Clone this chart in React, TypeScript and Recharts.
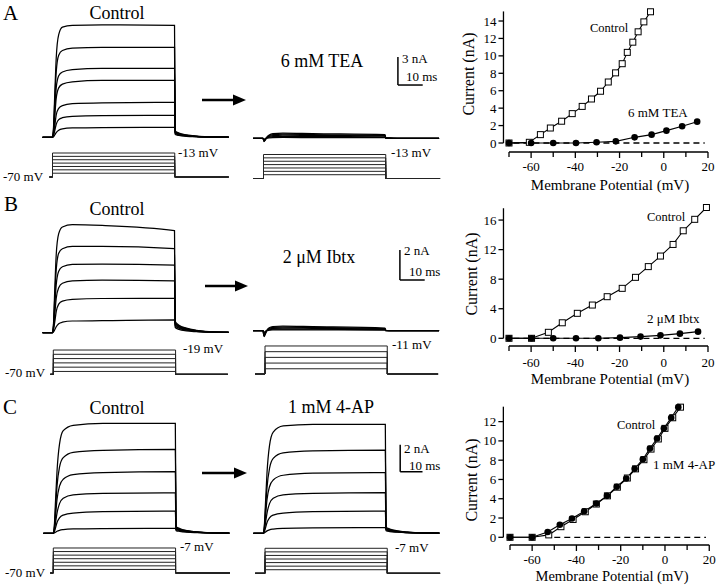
import React from 'react';
import { LineChart, Line, XAxis, YAxis, ReferenceLine } from 'recharts';

const FONT = '"Liberation Serif", "Times New Roman", "DejaVu Serif", serif';

// ---- current traces: samples (ms from step onset) and values (nA)
const traceTimes = [-4, 0, 0.4, 0.9, 1.5, 2.5, 4, 8, 20, 49.2, 49.5, 51, 54, 58, 64, 71];

const tracesAControl = [
  [0, 0, 1.0, 4.5, 8.5, 11.0, 11.8, 12.0, 12.05, 12.0, 0.7, 0.45, 0.25, 0.12, 0.05, 0.02],
  [0, 0, 0.8, 3.8, 7.0, 8.8, 9.3, 9.55, 9.65, 9.65, 0.6, 0.4, 0.22, 0.1, 0.04, 0.02],
  [0, 0, 0.6, 2.8, 5.3, 6.6, 7.0, 7.25, 7.4, 7.4, 0.55, 0.35, 0.2, 0.1, 0.04, 0.02],
  [0, 0, 0.5, 2.2, 4.2, 5.3, 5.7, 5.95, 6.1, 6.1, 0.5, 0.32, 0.18, 0.09, 0.04, 0.02],
  [0, 0, 0.3, 1.2, 2.4, 3.1, 3.4, 3.6, 3.7, 3.75, 0.45, 0.3, 0.16, 0.08, 0.03, 0.02],
  [0, 0, 0.2, 0.7, 1.4, 1.9, 2.1, 2.25, 2.33, 2.36, 0.4, 0.26, 0.14, 0.07, 0.03, 0.02],
  [0, 0, 0.05, 0.25, 0.5, 0.75, 0.9, 1.0, 1.05, 1.07, 0.3, 0.2, 0.11, 0.06, 0.03, 0.02],
];
const tracesATea = [
  [0, 0, -0.35, -0.2, 0.1, 0.35, 0.5, 0.55, 0.5, 0.4, 0.05, 0.02, 0, 0, 0, 0],
  [0, 0, -0.3, -0.15, 0.08, 0.28, 0.4, 0.44, 0.4, 0.32, 0.04, 0.02, 0, 0, 0, 0],
  [0, 0, -0.25, -0.1, 0.05, 0.2, 0.3, 0.33, 0.3, 0.25, 0.03, 0.01, 0, 0, 0, 0],
  [0, 0, -0.2, -0.08, 0.03, 0.12, 0.18, 0.2, 0.18, 0.15, 0.02, 0.01, 0, 0, 0, 0],
  [0, 0, -0.1, -0.04, 0.01, 0.05, 0.08, 0.09, 0.08, 0.07, 0.01, 0, 0, 0, 0, 0],
];
const tracesBControl = [
  [0, 0, 0.6, 2.8, 5.2, 6.6, 7.05, 7.2, 7.15, 6.8, 0.75, 0.5, 0.3, 0.16, 0.07, 0.03],
  [0, 0, 0.5, 2.3, 4.2, 5.3, 5.6, 5.75, 5.75, 5.6, 0.65, 0.45, 0.27, 0.14, 0.06, 0.03],
  [0, 0, 0.4, 1.7, 3.2, 4.1, 4.4, 4.55, 4.58, 4.5, 0.6, 0.4, 0.24, 0.12, 0.05, 0.02],
  [0, 0, 0.3, 1.2, 2.3, 3.0, 3.3, 3.45, 3.5, 3.45, 0.5, 0.35, 0.2, 0.1, 0.05, 0.02],
  [0, 0, 0.2, 0.7, 1.4, 1.9, 2.1, 2.22, 2.28, 2.29, 0.45, 0.3, 0.17, 0.09, 0.04, 0.02],
  [0, 0, 0.05, 0.2, 0.4, 0.6, 0.7, 0.78, 0.8, 0.85, 0.35, 0.22, 0.12, 0.07, 0.03, 0.02],
];
const tracesBIbtx = [
  [0, 0, -0.4, -0.25, 0.0, 0.2, 0.28, 0.3, 0.27, 0.18, 0.03, 0.01, 0, 0, 0, 0],
  [0, 0, -0.35, -0.2, 0.0, 0.15, 0.22, 0.24, 0.22, 0.14, 0.02, 0.01, 0, 0, 0, 0],
  [0, 0, -0.3, -0.15, 0, 0.1, 0.16, 0.18, 0.16, 0.1, 0.02, 0, 0, 0, 0, 0],
  [0, 0, -0.2, -0.1, 0, 0.06, 0.1, 0.11, 0.1, 0.07, 0.01, 0, 0, 0, 0, 0],
  [0, 0, -0.1, -0.05, 0, 0.03, 0.05, 0.05, 0.05, 0.03, 0, 0, 0, 0, 0, 0],
];
const tracesCControl = [
  [0, 0, 0.5, 2.4, 4.6, 6.6, 7.6, 8.0, 8.15, 8.15, 0.5, 0.35, 0.2, 0.1, 0.04, 0.02],
  [0, 0, 0.4, 1.8, 3.5, 4.9, 5.6, 6.0, 6.15, 6.22, 0.45, 0.3, 0.18, 0.09, 0.04, 0.02],
  [0, 0, 0.3, 1.3, 2.5, 3.5, 4.0, 4.35, 4.5, 4.57, 0.4, 0.27, 0.16, 0.08, 0.03, 0.02],
  [0, 0, 0.2, 0.8, 1.5, 2.2, 2.6, 2.85, 2.95, 3.0, 0.35, 0.23, 0.13, 0.07, 0.03, 0.02],
  [0, 0, 0.1, 0.4, 0.8, 1.15, 1.35, 1.5, 1.6, 1.65, 0.3, 0.2, 0.11, 0.06, 0.03, 0.02],
  [0, 0, 0.02, 0.08, 0.15, 0.22, 0.27, 0.32, 0.35, 0.37, 0.2, 0.14, 0.08, 0.05, 0.02, 0.01],
];
const tracesC4AP = [
  [0, 0, 0.5, 2.3, 4.5, 6.5, 7.5, 7.95, 8.07, 8.07, 0.45, 0.32, 0.18, 0.09, 0.04, 0.02],
  [0, 0, 0.4, 1.8, 3.4, 4.8, 5.55, 5.95, 6.1, 6.17, 0.4, 0.28, 0.16, 0.08, 0.03, 0.02],
  [0, 0, 0.3, 1.3, 2.5, 3.45, 3.95, 4.3, 4.45, 4.5, 0.36, 0.25, 0.14, 0.07, 0.03, 0.02],
  [0, 0, 0.2, 0.8, 1.5, 2.2, 2.6, 2.85, 2.95, 3.01, 0.32, 0.21, 0.12, 0.06, 0.03, 0.02],
  [0, 0, 0.1, 0.4, 0.8, 1.15, 1.35, 1.5, 1.6, 1.65, 0.28, 0.18, 0.1, 0.05, 0.02, 0.01],
  [0, 0, 0.02, 0.1, 0.18, 0.26, 0.31, 0.36, 0.4, 0.42, 0.2, 0.13, 0.08, 0.04, 0.02, 0.01],
];

// ---- voltage protocols (mV)
const HOLD_MV = -70;
const STEP_MS = 49.3;
const stepsA = [-61, -53, -45, -37, -29, -21, -13];
const stepsBControl = [-64, -55, -46, -37, -28, -19];
const stepsBIbtx = [-59, -47, -35, -23, -11];
const stepsC = [-61, -52, -43, -34, -25, -16, -7];

// ---- I-V data: membrane potential (mV) and peak current (nA)
const ivAControlMv = [-70, -60.8, -55.8, -51.3, -46.2, -41.4, -36.9, -32.7, -28.6, -25.1, -21.8, -18.8, -16.5, -14.0, -11.6, -9.0, -6.0];
const ivAControlNa = [0, 0.08, 0.96, 1.72, 2.5, 3.37, 4.2, 5.05, 5.94, 7.0, 8.05, 9.1, 10.4, 11.57, 12.76, 13.9, 15.06];
const ivATeaMv = [-70, -60, -50, -39.7, -30.4, -21.7, -13.2, -5.5, 1.2, 8.3, 15.1];
const ivATeaNa = [0, 0, 0, 0, 0.08, 0.19, 0.65, 0.96, 1.42, 1.92, 2.45];

const ivBControlMv = [-70, -59.8, -52.2, -45.9, -39.1, -32.3, -25.6, -18.8, -12.8, -7.0, -1.5, 4.2, 8.8, 14.0, 19.3];
const ivBControlNa = [0, 0, 0.81, 2.1, 3.38, 4.5, 5.63, 6.76, 8.25, 9.7, 11.13, 12.7, 14.55, 16.1, 17.7];
const ivBIbtxMv = [-70, -59.8, -50, -39.7, -29.6, -19.8, -10.5, -1.5, 7.3, 15.5];
const ivBIbtxNa = [0, 0, 0, 0, 0, 0.09, 0.23, 0.4, 0.63, 0.9];

const ivCControlMv = [-70, -60, -52.5, -47, -41.5, -36, -31, -26, -21.5, -17, -13.3, -9.5, -6.3, -3, 0, 3.5, 7];
const ivCControlNa = [0, 0, 0.25, 1.1, 1.85, 2.65, 3.45, 4.3, 5.2, 6.15, 7.1, 8.05, 9.15, 10.2, 11.3, 12.4, 13.5];
const ivC4APMv = [-70, -60, -53, -47.5, -42, -36.5, -31, -26.2, -21.8, -17.5, -13.7, -10, -6.8, -3.6, -0.5, 2.8, 6];
const ivC4APNa = [0, 0, 0.55, 1.3, 1.95, 2.7, 3.5, 4.3, 5.25, 6.1, 7.1, 8.1, 9.2, 10.25, 11.3, 12.4, 13.5];

const xTicks = [-70, -60, -50, -40, -30, -20, -10, 0, 10, 20];
const xLabelled = [-60, -40, -20, 0, 20];
const yTicksA = [0, 2, 4, 6, 8, 10, 12, 14];
const yTicksB = [0, 4, 8, 12, 16];
const yTicksC = [0, 2, 4, 6, 8, 10, 12];

type Box = { left: number; top: number; width: number; height: number };
type Map1 = { x0: number; xs: number; y0: number; v0: number; ys: number };

function domains(b: Box, m: Map1) {
  return {
    x: [(b.left - m.x0) / m.xs, (b.left + b.width - m.x0) / m.xs] as [number, number],
    y: [m.v0 + (m.y0 - b.top - b.height) / m.ys, m.v0 + (m.y0 - b.top) / m.ys] as [number, number],
  };
}

const zero = { top: 0, right: 0, bottom: 0, left: 0 };

function TracePanel({ box, map, traces, bar }: { box: Box; map: Map1; traces: number[][]; bar?: { t: number; i: number; dt: number; di: number } }) {
  const d = domains(box, map);
  const rows = traceTimes.map((t, i) => {
    const r: Record<string, number> = { t };
    traces.forEach((tr, k) => (r['s' + k] = tr[i]));
    return r;
  });
  return (
    <div style={{ position: 'absolute', left: box.left, top: box.top }}>
      <LineChart width={box.width} height={box.height} data={rows} margin={zero}>
        <XAxis dataKey="t" type="number" domain={d.x} allowDataOverflow hide />
        <YAxis type="number" domain={d.y} allowDataOverflow hide />
        {traces.map((_, k) => (
          <Line key={k} dataKey={'s' + k} type="monotone" stroke="#000" strokeWidth={1.25} dot={false} activeDot={false} isAnimationActive={false} />
        ))}
        {bar && (
          <ReferenceLine segment={[{ x: bar.t, y: bar.i }, { x: bar.t, y: bar.i + bar.di }]} stroke="#000" strokeWidth={1.5} ifOverflow="visible" />
        )}
        {bar && (
          <ReferenceLine segment={[{ x: bar.t, y: bar.i }, { x: bar.t + bar.dt, y: bar.i }]} stroke="#000" strokeWidth={1.5} ifOverflow="visible" />
        )}
      </LineChart>
    </div>
  );
}

function StepPanel({ box, map, levels, tStart, tEnd }: { box: Box; map: Map1; levels: number[]; tStart: number; tEnd: number }) {
  const d = domains(box, map);
  return (
    <div style={{ position: 'absolute', left: box.left, top: box.top }}>
      <LineChart width={box.width} height={box.height} margin={zero}>
        <XAxis dataKey="t" type="number" domain={d.x} allowDataOverflow hide />
        <YAxis dataKey="v" type="number" domain={d.y} allowDataOverflow hide />
        {levels.map((lv, k) => (
          <Line
            key={k}
            data={[
              { t: tStart, v: HOLD_MV },
              { t: 0, v: HOLD_MV },
              { t: 0, v: lv },
              { t: STEP_MS, v: lv },
              { t: STEP_MS, v: HOLD_MV },
              { t: tEnd, v: HOLD_MV },
            ]}
            dataKey="v"
            type="linear"
            stroke="#222"
            strokeWidth={1}
            dot={false}
            activeDot={false}
            isAnimationActive={false}
          />
        ))}
      </LineChart>
    </div>
  );
}

const SquareDot = (p: any) => (
  <rect key={'q' + p.index} x={p.cx - 3} y={p.cy - 3} width={6} height={6} fill="#fff" stroke="#000" strokeWidth={1} />
);
const CircleDot = (p: any) => <circle key={'c' + p.index} cx={p.cx} cy={p.cy} r={3.3} fill="#000" />;

const makeXTick = (dy: number) => (p: any) => {
  const v = p.payload.value;
  const lab = xLabelled.includes(v);
  return (
    <g>
      <line x1={p.x} x2={p.x} y1={p.y} y2={p.y + (lab ? 6 : 5)} stroke="#000" strokeWidth={1.3} />
      {lab && (
        <text x={p.x} y={p.y + dy} textAnchor="middle" fontSize={13} fontFamily={FONT} fill="#000">
          {v}
        </text>
      )}
    </g>
  );
};
const YTick = (p: any) => (
  <g>
    <line x1={p.x} x2={p.x - 5} y1={p.y} y2={p.y} stroke="#000" strokeWidth={1.3} />
    <text x={p.x - 7} y={p.y + 4.5} textAnchor="end" fontSize={13} fontFamily={FONT} fill="#000">
      {p.payload.value}
    </text>
  </g>
);

type IVGeo = Box & { xv: number; xp: number; xs: number; yp0: number; ys: number; xMin: number; xMax: number; yMin: number; yMax: number };

const AX_W = 30; // room reserved by the (drawn) axes inside the chart margin
const AX_H = 30;

function IVPlot({ g, ctrlMv, ctrlNa, drugMv, drugNa, yTicks, axisTop, dashFrom, labelDy }: {
  g: IVGeo; ctrlMv: number[]; ctrlNa: number[]; drugMv: number[]; drugNa: number[]; yTicks: number[]; axisTop: number; dashFrom: number; labelDy: number;
}) {
  const px = (v: number) => g.xp + (v - g.xv) * g.xs;
  const py = (v: number) => g.yp0 - v * g.ys;
  const margin = {
    left: px(g.xMin) - g.left - AX_W,
    right: g.left + g.width - px(g.xMax),
    top: py(g.yMax) - g.top,
    bottom: g.top + g.height - py(g.yMin) - AX_H,
  };
  const ctrl = ctrlMv.map((v, i) => ({ v, i: ctrlNa[i] }));
  const drug = drugMv.map((v, i) => ({ v, i: drugNa[i] }));
  return (
    <div style={{ position: 'absolute', left: g.left, top: g.top }}>
      <LineChart width={g.width} height={g.height} margin={margin}>
        <XAxis dataKey="v" type="number" domain={[g.xMin, g.xMax]} allowDataOverflow ticks={xTicks} interval={0}
          axisLine={false} tickLine={false} tickSize={0} tickMargin={0} height={AX_H} tick={makeXTick(labelDy)} />
        <YAxis type="number" domain={[g.yMin, g.yMax]} allowDataOverflow ticks={yTicks} interval={0}
          axisLine={false} tickLine={false} tickSize={0} tickMargin={0} width={AX_W} tick={YTick} />
        <ReferenceLine segment={[{ x: g.xMin, y: 0 }, { x: g.xMin, y: axisTop }]} stroke="#000" strokeWidth={1.3} ifOverflow="visible" />
        <ReferenceLine segment={[{ x: -70, y: g.yMin }, { x: 20, y: g.yMin }]} stroke="#000" strokeWidth={1.3} ifOverflow="visible" />
        <ReferenceLine segment={[{ x: dashFrom, y: 0 }, { x: 18.5, y: 0 }]} stroke="#000" strokeWidth={1.3} strokeDasharray="6 4" ifOverflow="visible" />
        <Line data={ctrl} dataKey="i" type="linear" stroke="#000" strokeWidth={1.1} dot={SquareDot} activeDot={false} isAnimationActive={false} />
        <Line data={drug} dataKey="i" type="linear" stroke="#000" strokeWidth={1.1} dot={CircleDot} activeDot={false} isAnimationActive={false} />
      </LineChart>
    </div>
  );
}

const T = (props: any) => <text fontFamily={FONT} fill="#000" {...props} />;

function Arrow({ x1, x2, y }: { x1: number; x2: number; y: number }) {
  return (
    <g>
      <line x1={x1} x2={x2 - 11} y1={y} y2={y} stroke="#000" strokeWidth={2.5} />
      <polygon points={`${x2 - 13},${y - 5.5} ${x2},${y} ${x2 - 13},${y + 5.5}`} fill="#000" />
    </g>
  );
}

export default function App() {
  const ivA: IVGeo = { left: 455, top: 0, width: 265, height: 195, xv: -70, xp: 509, xs: 2.211, yp0: 143, ys: 8.714, xMin: -72.5, xMax: 22.5, yMin: -1.03, yMax: 16 };
  const ivB: IVGeo = { left: 455, top: 195, width: 265, height: 195, xv: -70, xp: 509, xs: 2.211, yp0: 338.3, ys: 7.39, xMin: -72.5, xMax: 22.5, yMin: -1.04, yMax: 18.6 };
  const ivC: IVGeo = { left: 455, top: 390, width: 265, height: 198, xv: -70, xp: 510, xs: 2.214, yp0: 537.3, ys: 9.64, xMin: -73, xMax: 22.5, yMin: -0.8, yMax: 14.3 };

  return (
    <div style={{ position: 'absolute', left: 0, top: 0, width: 720, height: 588, background: '#fff', overflow: 'hidden' }}>
      {/* A */}
      <TracePanel box={{ left: 40, top: 15, width: 192, height: 128 }} map={{ x0: 52.5, xs: 2.48, y0: 137.3, v0: 0, ys: 9.33 }} traces={tracesAControl} />
      <TracePanel box={{ left: 250, top: 50, width: 190, height: 96 }} map={{ x0: 263, xs: 2.48, y0: 138.3, v0: 0, ys: 9.33 }} traces={tracesATea}
        bar={{ t: 54.4, i: 5.71, dt: 10, di: 3 }} />
      <StepPanel box={{ left: 46, top: 148, width: 188, height: 34 }} map={{ x0: 52.5, xs: 2.48, y0: 177, v0: HOLD_MV, ys: 0.421 }} levels={stepsA} tStart={-1.2} tEnd={71} />
      <StepPanel box={{ left: 250, top: 148, width: 192, height: 34 }} map={{ x0: 263.5, xs: 2.48, y0: 178.5, v0: HOLD_MV, ys: 0.421 }} levels={stepsA} tStart={-4.2} tEnd={71.2} />
      <IVPlot g={ivA} ctrlMv={ivAControlMv} ctrlNa={ivAControlNa} drugMv={ivATeaMv} drugNa={ivATeaNa} yTicks={yTicksA} axisTop={15.1} dashFrom={-68} labelDy={19.5} />

      {/* B */}
      <TracePanel box={{ left: 40, top: 218, width: 192, height: 122 }} map={{ x0: 52.5, xs: 2.48, y0: 332.7, v0: 0, ys: 15 }} traces={tracesBControl} />
      <TracePanel box={{ left: 250, top: 240, width: 190, height: 100 }} map={{ x0: 263, xs: 2.48, y0: 330.7, v0: 0, ys: 15 }} traces={tracesBIbtx}
        bar={{ t: 55.2, i: 3.38, dt: 10, di: 2 }} />
      <StepPanel box={{ left: 46, top: 343, width: 190, height: 36 }} map={{ x0: 53.3, xs: 2.48, y0: 374.3, v0: HOLD_MV, ys: 0.476 }} levels={stepsBControl} tStart={-1.2} tEnd={70.4} />
      <StepPanel box={{ left: 250, top: 340, width: 192, height: 40 }} map={{ x0: 265, xs: 2.48, y0: 374, v0: HOLD_MV, ys: 0.475 }} levels={stepsBIbtx} tStart={-4} tEnd={69.8} />
      <IVPlot g={ivB} ctrlMv={ivBControlMv} ctrlNa={ivBControlNa} drugMv={ivBIbtxMv} drugNa={ivBIbtxNa} yTicks={yTicksB} axisTop={17.6} dashFrom={-68} labelDy={21} />

      {/* C */}
      <TracePanel box={{ left: 40, top: 416, width: 192, height: 124 }} map={{ x0: 53.3, xs: 2.48, y0: 533.3, v0: 0, ys: 13.5 }} traces={tracesCControl} />
      <TracePanel box={{ left: 250, top: 416, width: 190, height: 124 }} map={{ x0: 263.3, xs: 2.48, y0: 533.3, v0: 0, ys: 13.5 }} traces={tracesC4AP}
        bar={{ t: 55.2, i: 4.56, dt: 9, di: 2 }} />
      <StepPanel box={{ left: 46, top: 542, width: 190, height: 36 }} map={{ x0: 53.3, xs: 2.48, y0: 573, v0: HOLD_MV, ys: 0.397 }} levels={stepsC} tStart={-1.2} tEnd={71.2} />
      <StepPanel box={{ left: 250, top: 542, width: 192, height: 36 }} map={{ x0: 265, xs: 2.48, y0: 573.3, v0: HOLD_MV, ys: 0.397 }} levels={stepsC} tStart={-4} tEnd={70.6} />
      <IVPlot g={ivC} ctrlMv={ivCControlMv} ctrlNa={ivCControlNa} drugMv={ivC4APMv} drugNa={ivC4APNa} yTicks={yTicksC} axisTop={13.55} dashFrom={-50} labelDy={18.5} />

      <svg width={720} height={588} style={{ position: 'absolute', left: 0, top: 0, pointerEvents: 'none' }}>
        <T x={3} y={20} fontSize={21}>A</T>
        <T x={4} y={211} fontSize={21}>B</T>
        <T x={3} y={414} fontSize={21}>C</T>

        <T x={117} y={19} fontSize={18} textAnchor="middle">Control</T>
        <T x={117} y={215} fontSize={18} textAnchor="middle">Control</T>
        <T x={117} y={414} fontSize={18} textAnchor="middle">Control</T>
        <T x={322} y={67} fontSize={18} textAnchor="middle">6 mM TEA</T>
        <T x={319} y={263} fontSize={18} textAnchor="middle">2 μM Ibtx</T>
        <T x={331} y={413} fontSize={18} textAnchor="middle">1 mM 4-AP</T>

        <Arrow x1={202} x2={246} y={100} />
        <Arrow x1={205} x2={248} y={286} />
        <Arrow x1={202} x2={247} y={473} />

        <T x={402} y={63} fontSize={13}>3 nA</T>
        <T x={406} y={81} fontSize={13}>10 ms</T>
        <T x={404} y={255} fontSize={13}>2 nA</T>
        <T x={409} y={276} fontSize={13}>10 ms</T>
        <T x={404} y={453} fontSize={13}>2 nA</T>
        <T x={409} y={470} fontSize={13}>10 ms</T>

        <T x={3} y={181} fontSize={13}>-70 mV</T>
        <T x={178} y={157} fontSize={13}>-13 mV</T>
        <T x={391} y={157} fontSize={13}>-13 mV</T>
        <T x={5} y={377} fontSize={13}>-70 mV</T>
        <T x={183} y={353} fontSize={13}>-19 mV</T>
        <T x={392} y={349} fontSize={13}>-11 mV</T>
        <T x={5} y={577} fontSize={13}>-70 mV</T>
        <T x={180} y={551} fontSize={13}>-7 mV</T>
        <T x={395} y={552} fontSize={13}>-7 mV</T>

        <T x={590} y={32} fontSize={12.5}>Control</T>
        <T x={628} y={117} fontSize={13}>6 mM TEA</T>
        <T x={647} y={221} fontSize={12.5}>Control</T>
        <T x={647} y={323} fontSize={13}>2 μM Ibtx</T>
        <T x={617} y={429} fontSize={12.5}>Control</T>
        <T x={653} y={469} fontSize={13}>1 mM 4-AP</T>

        <T x={610} y={189.5} fontSize={15} textAnchor="middle">Membrane Potential (mV)</T>
        <T x={610} y={384} fontSize={15} textAnchor="middle">Membrane Potential (mV)</T>
        <T x={612} y={581} fontSize={14.5} textAnchor="middle">Membrane Potential (mV)</T>

        <T x={0} y={0} fontSize={16} textAnchor="middle" transform="translate(474 74) rotate(-90)">Current (nA)</T>
        <T x={0} y={0} fontSize={16} textAnchor="middle" transform="translate(477 274) rotate(-90)">Current (nA)</T>
        <T x={0} y={0} fontSize={16} textAnchor="middle" transform="translate(477 480) rotate(-90)">Current (nA)</T>
      </svg>
    </div>
  );
}
